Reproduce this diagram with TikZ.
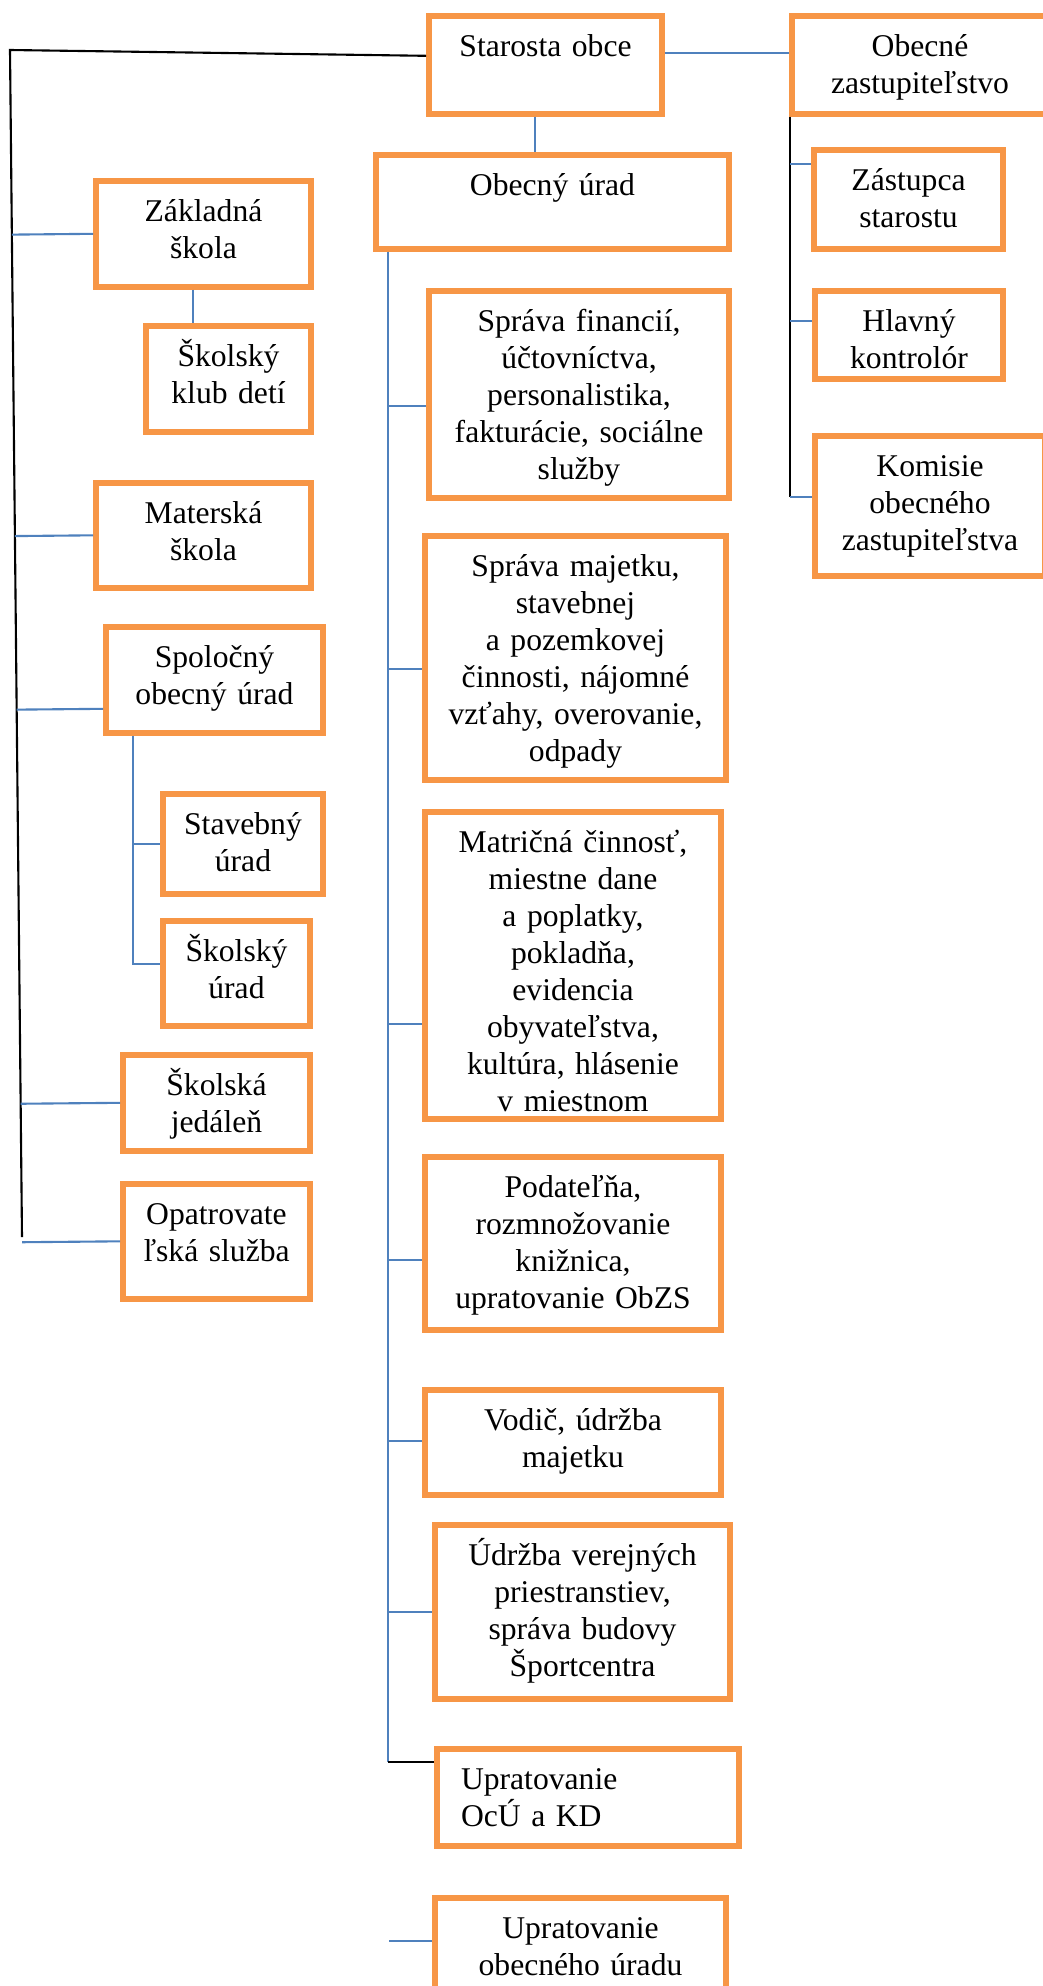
\documentclass[tikz,border=0pt]{standalone}
\usepackage{fontspec}
\setmainfont{Liberation Serif}
\usetikzlibrary{calc}
\definecolor{boxorange}{RGB}{247,150,70}
\definecolor{lineblue}{RGB}{79,129,189}

\begin{document}
\begin{tikzpicture}[x=1cm,y=-1cm,
		box/.style={draw=boxorange,line width=1.6pt,anchor=north,align=center,inner sep=0pt,text height=0.41cm,font=\fontsize{9}{10.5}\selectfont},
		blueline/.style={draw=lineblue,line width=0.6pt},
		blackline/.style={draw=black,line width=0.6pt}]

		\useasboundingbox (0,0) rectangle (10.43,19.86);

		%top nodes
		\node[box,text width=2.33cm,text depth=0.57cm] (star) at (5.455,0.13) {Starosta obce};
		\node[box,text width=2.56cm,text depth=0.57cm] (zast) at (9.20,0.13) {Obecné\\zastupiteľstvo};
		\node[box,text width=3.53cm,text depth=0.53cm] (ou) at (5.525,1.52) {Obecný úrad};

		%right nodes
		\node[box,text width=1.89cm,text depth=0.58cm] (zas) at (9.085,1.47) {Zástupca\\starostu};
		\node[box,text width=1.88cm,text depth=0.47cm] (hlav) at (9.09,2.88) {Hlavný\\kontrolór};
		\node[box,text width=2.30cm,text depth=0.99cm] (kom) at (9.30,4.33) {Komisie\\obecného\\zastupiteľstva};

		%left nodes
		\node[box,text width=2.15cm,text depth=0.65cm] (zak) at (2.035,1.78) {Základná\\škola};
		\node[box,text width=1.65cm,text depth=0.65cm] (klub) at (2.285,3.23) {Školský\\klub detí};
		\node[box,text width=2.15cm,text depth=0.64cm] (mats) at (2.035,4.80) {Materská\\škola};
		\node[box,text width=2.17cm,text depth=0.65cm] (spo) at (2.145,6.24) {Spoločný\\obecný úrad};
		\node[box,text width=1.60cm,text depth=0.59cm] (stav) at (2.43,7.91) {Stavebný\\úrad};
		\node[box,text width=1.47cm,text depth=0.64cm] (skur) at (2.365,9.18) {Školský\\úrad};
		\node[box,text width=1.87cm,text depth=0.55cm] (jed) at (2.165,10.52) {Školská\\jedáleň};
		\node[box,text width=1.87cm,text depth=0.74cm] (opa) at (2.165,11.81) {Opatrovate\\ľská služba};

		%middle nodes
		\node[box,text width=3.00cm,text depth=1.66cm] (fin) at (5.79,2.88) {Správa financií,\\účtovníctva,\\personalistika,\\fakturácie, sociálne\\služby};
		\node[box,text width=3.01cm,text depth=2.03cm] (maj) at (5.755,5.33) {Správa majetku,\\stavebnej\\a pozemkovej\\činnosti, nájomné\\vzťahy, overovanie,\\odpady};
		\node[box,text width=2.96cm,text depth=2.66cm] (matr) at (5.73,8.09) {Matričná činnosť,\\miestne dane\\a poplatky,\\pokladňa,\\evidencia\\obyvateľstva,\\kultúra, hlásenie\\v miestnom};
		\node[box,text width=2.96cm,text depth=1.32cm] (pod) at (5.73,11.54) {Podateľňa,\\rozmnožovanie\\knižnica,\\upratovanie ObZS};
		\node[box,text width=2.96cm,text depth=0.64cm] (vod) at (5.73,13.87) {Vodič, údržba\\majetku};
		\node[box,text width=2.95cm,text depth=1.33cm] (udr) at (5.825,15.22) {Údržba verejných\\priestranstiev,\\správa budovy\\Športcentra};
		\node[box,align=left,inner xsep=0.24cm,text width=2.54cm,text depth=0.56cm] (ocu) at (5.88,17.46) {Upratovanie\\OcÚ a KD};
		\node[box,text width=2.91cm,text depth=0.89cm] (uou) at (5.805,18.95) {Upratovanie\\obecného úradu};

		%corners
		\coordinate (lt) at (0.10,0.50);
		\coordinate (lb) at (0.22,12.37);
		\coordinate (rb) at (7.90,4.97);
		\coordinate (mb) at (3.88,17.62);
		\coordinate (sb) at (1.33,9.64);
		\coordinate (ue) at (3.89,19.41);
		\coordinate (spoc) at ([yshift=-0.29cm]spo.west);

		%top edges
		\draw[blackline] ([yshift=0.09cm]star.west) -- (lt) -- (lb);
		\draw[blueline] ([yshift=0.12cm]star.east) -- ([yshift=0.12cm]zast.west);
		\draw[blueline] (star.south -| 5.35,0) -- (ou.north -| 5.35,0);

		%right edges
		\draw[blackline] (zast.south west -| rb) -- (rb);
		\draw[blueline] (rb |- 0,1.64) -- (zas.west |- 0,1.64);
		\draw[blueline] (rb |- 0,3.21) -- (hlav.west |- 0,3.21);
		\draw[blueline] (rb) -- (kom.west |- rb);

		%left edges
		\draw[blueline] ($(lt)!(zak.west)!(lb)$) -- (zak.west);
		\draw[blueline] (zak.south -| 1.93,0) -- (klub.north -| 1.93,0);
		\draw[blueline] ($(lt)!(mats.west)!(lb)$) -- (mats.west);
		\draw[blueline] ($(lt)!(spoc)!(lb)$) -- (spoc);
		\draw[blueline] (spo.south -| sb) -- (sb) -- (skur.west |- sb);
		\draw[blueline] (stav.west -| sb) -- (stav.west);
		\draw[blueline] ($(lt)!(jed.west)!(lb)$) -- (jed.west);
		\draw[blueline] ($(lt)!(opa.west)!(lb)$) -- (opa.west);

		%middle edges
		\draw[blueline] (ou.south -| mb) -- (mb);
		\draw[blueline] (mb |- 0,4.06) -- (fin.west |- 0,4.06);
		\draw[blueline] (mb |- 0,6.69) -- (maj.west |- 0,6.69);
		\draw[blueline] (mb |- 0,10.24) -- (matr.west |- 0,10.24);
		\draw[blueline] (mb |- 0,12.60) -- (pod.west |- 0,12.60);
		\draw[blueline] (mb |- 0,14.41) -- (vod.west |- 0,14.41);
		\draw[blueline] (mb |- 0,16.12) -- (udr.west |- 0,16.12);
		\draw[blackline] (mb) -- (ocu.west |- mb);
		\draw[blueline] (ue) -- (uou.west |- ue);

\end{tikzpicture}
\end{document}
